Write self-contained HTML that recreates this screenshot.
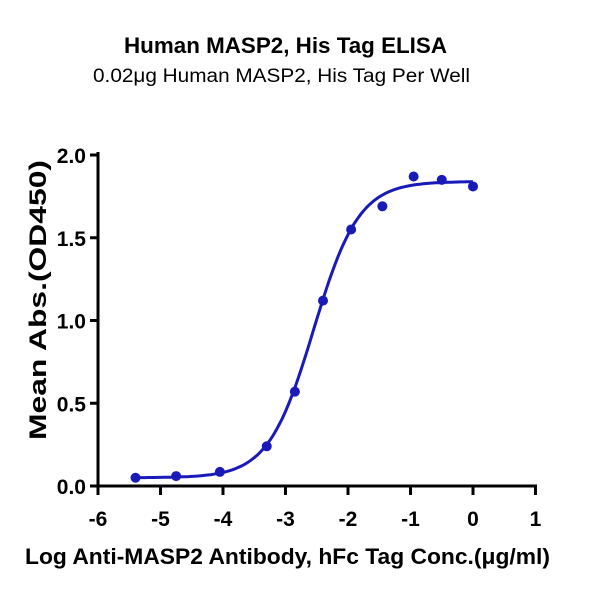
<!DOCTYPE html>
<html><head><meta charset="utf-8"><style>
body{margin:0;background:#fff}
text{font-family:"Liberation Sans",Arial,sans-serif}
</style></head><body>
<svg id="s" width="600" height="600" viewBox="0 0 600 600" xmlns="http://www.w3.org/2000/svg">
<text x="124" y="53" font-size="22" font-weight="bold" textLength="323" lengthAdjust="spacingAndGlyphs">Human MASP2, His Tag ELISA</text>
<text x="93" y="82" font-size="19" textLength="377" lengthAdjust="spacingAndGlyphs">0.02μg Human MASP2, His Tag Per Well</text>
<g stroke="#000" stroke-width="3" fill="none">
<line x1="98" y1="152" x2="98" y2="487"/>
<line x1="96.5" y1="486" x2="537" y2="486"/>
<g id="yt"></g><g id="xt"></g>
</g>
<g id="lab" font-size="21" font-weight="bold"></g>
<text transform="translate(46,440) rotate(-90)" font-size="24" font-weight="bold" textLength="280" lengthAdjust="spacingAndGlyphs">Mean Abs.(OD450)</text>
<text x="25" y="564" font-size="22" font-weight="bold" textLength="525" lengthAdjust="spacingAndGlyphs">Log Anti-MASP2 Antibody, hFc Tag Conc.(μg/ml)</text>
<path id="c" fill="none" stroke="#1a1ab8" stroke-width="3"/>
<g id="p" fill="#1a1ab8"></g>
</svg>
<script>
var X=function(v){return 98+(v+6)*62.5},Y=function(v){return 486-v*165.5};
var ns="http://www.w3.org/2000/svg",yt=document.getElementById('yt'),xt=document.getElementById('xt'),lab=document.getElementById('lab');
function el(t,a,p){var e=document.createElementNS(ns,t);for(var k in a)e.setAttribute(k,a[k]);p.appendChild(e);return e}
[0,0.5,1,1.5,2].forEach(function(v){el('line',{x1:90,x2:98,y1:Y(v),y2:Y(v)},yt);el('text',{x:86,y:Y(v)+8,'text-anchor':'end'},lab).textContent=v.toFixed(1)});
for(var i=-6;i<=1;i++){el('line',{x1:X(i),x2:X(i),y1:486,y2:495},xt);el('text',{x:X(i),y:526,'text-anchor':'middle'},lab).textContent=i}
var d='';for(var x=-5.45;x<=0.001;x+=0.05){var y=0.05+1.79/(1+Math.pow(10,(-2.55-x)*1.2));d+=(d?'L':'M')+X(x).toFixed(1)+','+Y(y).toFixed(1)}
document.getElementById('c').setAttribute('d',d);
[[-5.4,.05],[-4.75,.06],[-4.05,.085],[-3.3,.24],[-2.85,.57],[-2.4,1.12],[-1.95,1.55],[-1.45,1.69],[-0.95,1.87],[-0.5,1.85],[0,1.81]].forEach(function(p){el('circle',{cx:X(p[0]),cy:Y(p[1]),r:5},document.getElementById('p'))});
</script>
</body></html>
